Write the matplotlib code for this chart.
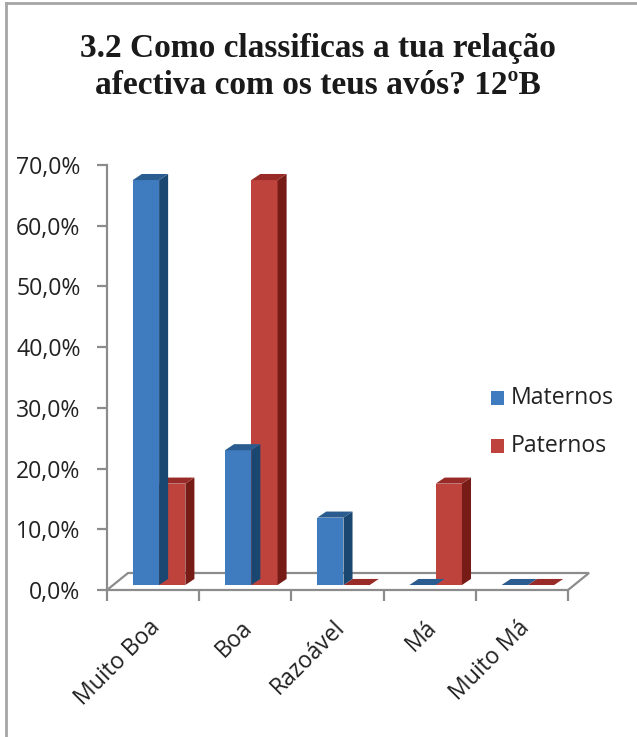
import matplotlib
matplotlib.use("Agg")
import matplotlib.pyplot as plt
from matplotlib.patches import Polygon, Rectangle

# chart data
categories = ["Muito Boa", "Boa", "Razoável", "Má", "Muito Má"]
maternos = [66.7, 22.2, 11.1, 0.0, 0.0]
paternos = [16.7, 66.7, 0.0, 16.7, 0.0]
series_names = ["Maternos", "Paternos"]
y_ticks = [0, 10, 20, 30, 40, 50, 60, 70]
y_tick_labels = ["0,0%", "10,0%", "20,0%", "30,0%", "40,0%", "50,0%", "60,0%", "70,0%"]
title = "3.2 Como classificas a tua relação\nafectiva com os teus avós? 12ºB"

# colours (front, side, top) for the fake 3D look
blue = ("#3F7CBF", "#1A4772", "#2B5C90")
red = ("#BF433D", "#771B17", "#982B27")
grey = "#8C8C8C"
txt = "#222222"
fs = 16.6

W, H = 637, 737
fig = plt.figure(figsize=(W / 100, H / 100), dpi=100)
fig.patch.set_facecolor("white")

# axes placed in pixel terms: x 107..568, y 590 (0%) .. 165 (70%)
ax = fig.add_axes([107 / W, (H - 590) / H, (568 - 107) / W, (590 - 165) / H])
ax.set_xlim(0, 5)
ax.set_ylim(0, 70)
ax.patch.set_alpha(0)
for s in ["top", "right", "bottom"]:
    ax.spines[s].set_visible(False)
ax.spines["left"].set_color(grey)
ax.spines["left"].set_linewidth(1.6)

ax.set_yticks(y_ticks)
ax.set_yticklabels(y_tick_labels, fontsize=fs, family="Open Sans", color=txt)
ax.tick_params(axis="y", length=7, width=1.6, color=grey, pad=12)
ax.set_xticks([0, 1, 2, 3, 4, 5])
ax.set_xticklabels([])
ax.tick_params(axis="x", length=8, width=1.6, color=grey)

# floor (depth offsets in data units)
fdx, fdy = 0.228, 2.8
floor = Polygon([(0, 0), (5, 0), (5 + fdx, fdy), (fdx, fdy)], closed=True,
                facecolor="white", edgecolor=grey, linewidth=1.6, clip_on=False, zorder=1)
ax.add_patch(floor)

# bars
bdx, bdy = 0.098, 1.0
base = 0.82
width = 0.285
x0 = 0.28


def bar3d(x, v, cols):
    front, side, top = cols
    if v > 0:
        ax.add_patch(Rectangle((x, base), width, v, facecolor=front, edgecolor="none",
                               clip_on=False, zorder=3))
        ax.add_patch(Polygon([(x + width, base), (x + width + bdx, base + bdy),
                              (x + width + bdx, base + v + bdy), (x + width, base + v)],
                             closed=True, facecolor=side, edgecolor="none",
                             clip_on=False, zorder=3))
    ax.add_patch(Polygon([(x, base + v), (x + width, base + v),
                          (x + width + bdx, base + v + bdy), (x + bdx, base + v + bdy)],
                         closed=True, facecolor=top, edgecolor="none",
                         clip_on=False, zorder=3))


for i in range(len(categories)):
    bar3d(i + x0 + width, paternos[i], red)
    bar3d(i + x0, maternos[i], blue)

# category labels
for i, c in enumerate(categories):
    ax.text(i + 0.45, -4.2, c, rotation=45, ha="right", va="top", rotation_mode="anchor",
            fontsize=fs, family="Open Sans", color=txt, clip_on=False)

# legend
for k, (name, cols) in enumerate(zip(series_names, [blue, red])):
    yc = 398 + k * 48
    fig.patches.append(Rectangle((491 / W, (H - yc - 7) / H), 13 / W, 14 / H,
                                 facecolor=cols[0], edgecolor="none",
                                 transform=fig.transFigure, figure=fig))
    fig.text(511 / W, (H - yc) / H, name, ha="left", va="center",
             fontsize=fs, family="Open Sans", color=txt)

# title
fig.text(318 / W, (H - 67) / H, title, ha="center", va="center", fontsize=24,
         fontweight="bold", family="Liberation Serif", color="#1a1a1a",
         linespacing=1.25)

# chart border (only left/top edges visible in the crop)
fig.add_artist(plt.Line2D([6 / W, 6 / W], [0, (H - 3) / H], color="#A6A6A6", lw=2,
                          transform=fig.transFigure))
fig.add_artist(plt.Line2D([6 / W, 1], [(H - 3) / H, (H - 3) / H], color="#A6A6A6", lw=2,
                          transform=fig.transFigure))

fig.savefig("out.png", dpi=100)
